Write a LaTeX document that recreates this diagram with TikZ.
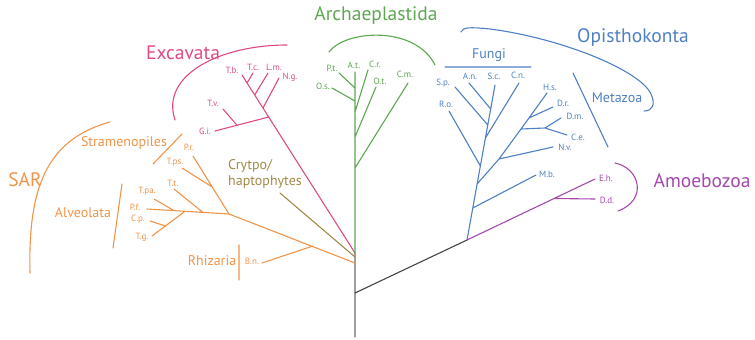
\documentclass[tikz,border=0pt]{standalone}
\usepackage{fontspec}
\setmainfont{PT Sans}
\usepackage{tikz}
\definecolor{sarorange}{HTML}{F0944A}
\definecolor{excpink}{HTML}{DF4A86}
\definecolor{arcgreen}{HTML}{5EA653}
\definecolor{opiblue}{HTML}{4F80C4}
\definecolor{amopurple}{HTML}{A548AE}
\definecolor{cryolive}{HTML}{A08A48}
\definecolor{rootgrey}{HTML}{9E9E9E}
\definecolor{rootdark}{HTML}{444444}

\begin{document}
\begin{tikzpicture}[x=1pt, y=-1pt,
  br/.style={line width=1.1pt, line cap=round},
  leaf/.style={inner sep=0pt, font=\fontsize{9}{10}\selectfont},
  group/.style={inner sep=0pt, font=\fontsize{14}{16}\selectfont},
  clade/.style={inner sep=0pt, font=\fontsize{19.5}{21}\selectfont}]
\useasboundingbox (0,0) rectangle (755,340);
\coordinate (r0) at (355,337); \coordinate (r1) at (355,293); \coordinate (r2) at (355,263);
\coordinate (r3) at (355,257); \coordinate (r4) at (355,253); \coordinate (op) at (467,240);
\draw[br, rootgrey] (r0) -- (r4);
\draw[br, rootdark] (r1) -- (op);
\coordinate (s1) at (312,246.3); \coordinate (bn) at (262,263);
\coordinate (s2) at (229,214); \coordinate (s3) at (212.2,187); \coordinate (pr) at (193,156); \coordinate (tps) at (182,168);
\coordinate (s4) at (203,212.4); \coordinate (tt) at (174,189);
\coordinate (s5) at (185,211.3); \coordinate (s6) at (174,210.6); \coordinate (tpa) at (154,199); \coordinate (pf) at (147,209);
\coordinate (s7) at (166,226.2); \coordinate (cp) at (150,221); \coordinate (tg) at (152,236);
\draw[br, sarorange] (r2) -- (s2) -- (pf) (s1) -- (bn) (s2) -- (pr) (s3) -- (tps) (s4) -- (tt)
  (s6) -- (tpa) (s5) -- (tg) (s7) -- (cp);
\coordinate (cry) at (280,193);
\draw[br, cryolive] (r3) -- (cry);
\coordinate (tb) at (242,75); \coordinate (e1) at (268.7,117); \coordinate (e2) at (263,108);
\coordinate (e3) at (254.7,95); \coordinate (e4) at (247.1,83); \coordinate (e5) at (237,125.3);
\coordinate (gi) at (215,131); \coordinate (tv) at (223,109); \coordinate (tc) at (253,73);
\coordinate (lm) at (268,73); \coordinate (ng) at (279,78);
\draw[br, excpink] (r4) -- (tb) (e1) -- (gi) (e5) -- (tv) (e4) -- (tc) (e3) -- (lm) (e2) -- (ng);
\coordinate (at) at (355,72); \coordinate (g1) at (355,88); \coordinate (g2) at (355,101);
\coordinate (g3) at (355,112); \coordinate (g4) at (355,137); \coordinate (g5) at (355,168);
\coordinate (pt) at (339,73); \coordinate (os) at (332,88); \coordinate (cr) at (368,70);
\coordinate (ot) at (376,87); \coordinate (cm) at (408,83);
\draw[br, arcgreen] (r4) -- (at) (g1) -- (pt) (g2) -- (os) (g3) -- (cr) (g4) -- (ot) (g5) -- (cm);
\coordinate (o1) at (472.8,208); \coordinate (o2) at (477.1,184); \coordinate (o3) at (480.4,166);
\coordinate (o4) at (485.4,138); \coordinate (o5) at (487.8,125); \coordinate (o6) at (490.7,109);
\coordinate (sc) at (495,85); \coordinate (mb) at (536,175); \coordinate (ro) at (449,111);
\coordinate (cn) at (519,83); \coordinate (sp) at (455,87); \coordinate (an) at (469,83);
\coordinate (m1) at (499,159); \coordinate (m2) at (521,129); \coordinate (m3) at (529,118);
\coordinate (hs) at (547,93); \coordinate (nv) at (553,147); \coordinate (m4) at (545,128);
\coordinate (dm) at (561,118); \coordinate (ce) at (567,135); \coordinate (dr) at (553,107);
\draw[br, opiblue] (op) -- (sc) (o1) -- (mb) (o3) -- (ro) (o4) -- (cn) (o5) -- (sp) (o6) -- (an)
  (o2) -- (m1) -- (m2) -- (m3) -- (hs) (m1) -- (nv) (m2) -- (m4) -- (dm) (m4) -- (ce) (m3) -- (dr);
\coordinate (eh) at (595,179); \coordinate (a1) at (554,198.5); \coordinate (dd) at (595,199);
\draw[br, amopurple] (op) -- (eh) (a1) -- (dd);
\draw[br, sarorange] (110,122) .. controls (45,140) and (28,190) .. (30,273)
  (182,134) -- (153,164) (122,184) -- (113,248) (239,245) -- (239,280);
\draw[br, excpink] (287,45) .. controls (220,45) and (160,75) .. (175,120);
\draw[br, arcgreen] (329,52) .. controls (345,30) and (415,25) .. (435,65);
\draw[br, opiblue] (461,32) .. controls (463,27) and (470,27) .. (490,29)
  .. controls (560,38) and (640,70) .. (651,94) .. controls (656,105) and (652,111) .. (644,111)
  (445,67) -- (531,67) (573,73) -- (608,147);
\draw[br, amopurple] (615,163) .. controls (640,168) and (648,200) .. (618,211);
\node[clade, sarorange] (sar) at (25,180) {SAR};
\node[clade, excpink] (exc) at (183,53) {Excavata};
\node[clade, arcgreen] (arc) at (376,16) {Archaeplastida};
\node[clade, opiblue] (opi) at (633,38) {Opisthokonta};
\node[clade, amopurple] (amo) at (702,181) {Amoebozoa};
\node[group, sarorange] (stra) at (124,143) {Stramenopiles};
\node[group, sarorange] (alv) at (83,213) {Alveolata};
\node[group, sarorange] (rhi) at (212,261) {Rhizaria};
\node[group, cryolive, align=left, anchor=west] (cryl) at (228,174) {Crytpo/\\haptophytes};
\node[group, opiblue] (fun) at (489,55) {Fungi};
\node[group, opiblue] (met) at (617,98) {Metazoa};
\node[leaf, sarorange] (l-pr) at (189,147) {P.r.};
\node[leaf, sarorange] (l-tps) at (175,162) {T.ps.};
\node[leaf, sarorange] (l-tt) at (173,183) {T.t.};
\node[leaf, sarorange] (l-tpa) at (147,191) {T.pa.};
\node[leaf, sarorange] (l-pf) at (135,207) {P.f.};
\node[leaf, sarorange] (l-cp) at (138,219) {C.p.};
\node[leaf, sarorange] (l-tg) at (142,237) {T.g.};
\node[leaf, sarorange] (l-bn) at (252,261) {B.n.};
\node[leaf, excpink] (l-tb) at (232,70) {T.b.};
\node[leaf, excpink] (l-tc) at (253,67) {T.c.};
\node[leaf, excpink] (l-lm) at (274,67) {L.m.};
\node[leaf, excpink] (l-ng) at (290,77) {N.g.};
\node[leaf, excpink] (l-tv) at (213,103) {T.v.};
\node[leaf, excpink] (l-gi) at (205,131) {G.i.};
\node[leaf, arcgreen] (l-pt) at (332,68) {P.t.};
\node[leaf, arcgreen] (l-at) at (354,65) {A.t.};
\node[leaf, arcgreen] (l-cr) at (375,64) {C.r.};
\node[leaf, arcgreen] (l-ot) at (380,81) {O.t.};
\node[leaf, arcgreen] (l-cm) at (405,74) {C.m.};
\node[leaf, arcgreen] (l-os) at (323,86) {O.s.};
\node[leaf, opiblue] (l-sp) at (443,83) {S.p.};
\node[leaf, opiblue] (l-an) at (470,76) {A.n.};
\node[leaf, opiblue] (l-sc) at (494,76) {S.c.};
\node[leaf, opiblue] (l-cn) at (518,75) {C.n.};
\node[leaf, opiblue] (l-ro) at (446,104) {R.o.};
\node[leaf, opiblue] (l-hs) at (550,87) {H.s.};
\node[leaf, opiblue] (l-dr) at (563,103) {D.r.};
\node[leaf, opiblue] (l-dm) at (575,116) {D.m.};
\node[leaf, opiblue] (l-ce) at (578,137) {C.e.};
\node[leaf, opiblue] (l-nv) at (565,147) {N.v.};
\node[leaf, opiblue] (l-mb) at (547,174) {M.b.};
\node[leaf, amopurple] (l-eh) at (606,178) {E.h.};
\node[leaf, amopurple] (l-dd) at (607,200) {D.d.};
\end{tikzpicture}
\end{document}
